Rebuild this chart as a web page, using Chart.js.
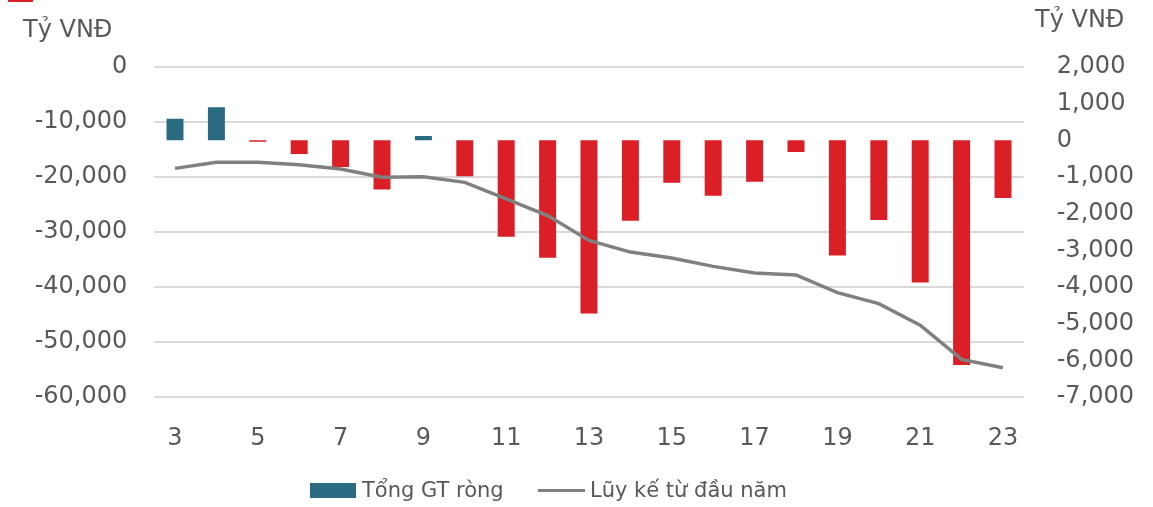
<!DOCTYPE html>
<html>
<head>
<meta charset="utf-8">
<script src="https://cdn.jsdelivr.net/npm/chart.js@4.4.1/dist/chart.umd.min.js"></script>
<style>
  html, body { margin:0; padding:0; background:#fff; }
  #wrap { position:relative; width:1153px; height:507px; overflow:hidden; font-family:"DejaVu Sans", sans-serif; color:#595959; }
  #c { position:absolute; left:0; top:0; }
  .t { position:absolute; font-size:24px; line-height:24px; white-space:nowrap; }
  .leg { position:absolute; font-size:21px; line-height:21px; white-space:nowrap; }
</style>
</head>
<body>
<div id="wrap">
  <canvas id="c" width="1153" height="507"></canvas>
  <div style="position:absolute;left:8px;top:0;width:25px;height:2px;background:#DA1F26"></div>
  <div class="t" style="left:23px;top:17px">Tỷ VNĐ</div>
  <div class="t" style="left:1035px;top:7px">Tỷ VNĐ</div>
  <div style="position:absolute;left:310px;top:483px;width:46px;height:15px;background:#2A6B82"></div>
  <div class="leg" style="left:362px;top:480px">Tổng GT ròng</div>
  <div style="position:absolute;left:538px;top:489px;width:47px;height:3px;background:#808080"></div>
  <div class="leg" style="left:590px;top:480px">Lũy kế từ đầu năm</div>
</div>
<script>
const categories = ['3','4','5','6','7','8','9','10','11','12','13','14','15','16','17','18','19','20','21','22','23'];
const netValues = [590, 905, -40, -370, -725, -1340, 115, -980, -2630, -3200, -4720, -2190, -1160, -1510, -1130, -320, -3140, -2170, -3880, -6130, -1570];
const cumulative = [-18430, -17340, -17340, -17760, -18550, -20060, -19940, -20970, -23980, -27010, -31540, -33650, -34740, -36250, -37460, -37820, -41020, -43020, -46950, -53170, -54680];
const leftTicks = [0, -10000, -20000, -30000, -40000, -50000, -60000];
const rightTicks = [2000, 1000, 0, -1000, -2000, -3000, -4000, -5000, -6000, -7000];

const TEAL = '#2A6B82', RED = '#DA1F26', GREY = '#808080', TXT = '#595959';
const FONT = { family: '"DejaVu Sans", sans-serif', size: 24 };

new Chart(document.getElementById('c'), {
  data: {
    labels: categories,
    datasets: [
      {
        type: 'line', label: 'Lũy kế từ đầu năm', data: cumulative, yAxisID: 'yL',
        borderColor: GREY, borderWidth: 3.5, pointRadius: 0, tension: 0, order: 0, fill: false
      },
      {
        type: 'bar', label: 'Tổng GT ròng', data: netValues, yAxisID: 'yR',
        backgroundColor: netValues.map(v => v >= 0 ? TEAL : RED),
        barPercentage: 0.41, categoryPercentage: 1, order: 1
      }
    ]
  },
  options: {
    responsive: false, animation: false, devicePixelRatio: 1,
    layout: { padding: { top: 67, left: 0, right: 0, bottom: 0 } },
    plugins: { legend: { display: false }, tooltip: { enabled: false } },
    scales: {
      x: {
        grid: { display: false, drawTicks: false }, border: { display: false },
        ticks: {
          color: TXT, font: FONT, padding: 27, autoSkip: false, maxRotation: 0,
          callback: function(v, i) { return i % 2 === 0 ? categories[i] : ''; }
        },
        afterFit: s => { s.height = 110; }
      },
      yL: {
        position: 'left', min: -60000, max: 0,
        afterBuildTicks: s => { s.ticks = leftTicks.map(v => ({ value: v })); },
        grid: { color: '#d9d9d9', lineWidth: 2, drawTicks: false }, border: { display: false },
        ticks: { color: TXT, font: FONT, padding: 27, callback: v => v.toLocaleString('en-US') },
        afterFit: s => { s.width = 154.3; }
      },
      yR: {
        position: 'right', min: -7000, max: 2000,
        afterBuildTicks: s => { s.ticks = rightTicks.map(v => ({ value: v })); },
        grid: { display: false, drawTicks: false }, border: { display: false },
        ticks: { color: TXT, font: FONT, padding: 33, callback: v => v.toLocaleString('en-US') },
        afterFit: s => { s.width = 129.3; }
      }
    }
  }
});
</script>
</body>
</html>
